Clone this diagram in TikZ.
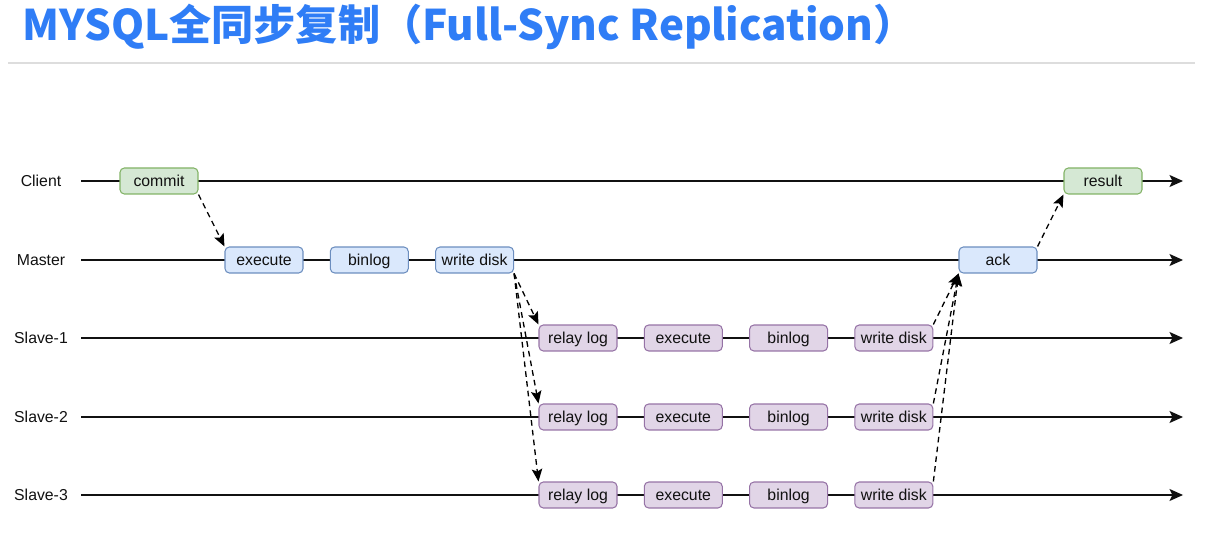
\documentclass[tikz,border=0pt]{standalone}
\usepackage{fontspec}
\setmainfont{Liberation Sans}
\newfontfamily\cjk{Noto Sans CJK SC}
\usetikzlibrary{arrows.meta,positioning}
\definecolor{Ink}{HTML}{111111}
\definecolor{TitleBlue}{HTML}{2F7DF6}
\definecolor{RuleGray}{HTML}{DDDDDD}
\definecolor{GreenFill}{HTML}{D5E8D4}
\definecolor{GreenLine}{HTML}{82B366}
\definecolor{BlueFill}{HTML}{DAE8FC}
\definecolor{BlueLine}{HTML}{6C8EBF}
\definecolor{PurpleFill}{HTML}{E1D5E7}
\definecolor{PurpleLine}{HTML}{9673A6}
\tikzset{
  stage/.style={
    rounded corners=2.5pt, line width=0.6pt, text=Ink,
    minimum width=1.56cm, minimum height=0.52cm, inner sep=2pt,
    text height=0.75em, text depth=0.15em,
    font=\fontsize{9}{11}\selectfont
  },
  clientbox/.style={stage, draw=GreenLine, fill=GreenFill},
  masterbox/.style={stage, draw=BlueLine, fill=BlueFill},
  slavebox/.style={stage, draw=PurpleLine, fill=PurpleFill},
  lanelabel/.style={text=Ink, font=\fontsize{9}{11}\selectfont},
  lane/.style={-{Stealth[length=2.7mm,width=2.4mm,inset=0.6mm]}, line width=0.75pt, draw=Ink},
  msg/.style={-{Stealth[length=2.5mm,width=2.1mm,inset=0.5mm]}, line width=0.75pt,
    dash pattern=on 3.2pt off 2.4pt, draw=black}
}

\begin{document}
\begin{tikzpicture}[x=0.02cm,y=-0.02cm,node distance=0.525cm]
    \useasboundingbox (0,0) rectangle (1207,540);
    \node[anchor=base west,inner sep=0pt,text=TitleBlue,
      font=\cjk\bfseries\fontsize{24}{29}\selectfont] (title) at (22,41)
      {MYSQL全同步复制（Full-Sync Replication）};
    \coordinate (ruleA) at (8,63);
    \coordinate (ruleB) at (1195,63);
    \draw[RuleGray,line width=0.6pt] (ruleA) -- (ruleB);
    % time lines
    \foreach \n/\y/\t in {client/181/Client,master/260/Master,s1/338/Slave-1,
                         s2/417/Slave-2,s3/495/Slave-3}{
      \node[lanelabel] (\n) at (41,\y) {\t};
      \coordinate (\n-a) at (81,\y);
      \coordinate (\n-b) at (1183,\y);
      \draw[lane] (\n-a) -- (\n-b);
    }
    % client
    \node[clientbox] (commit) at (159,181) {commit};
    \node[clientbox] (result) at (1103,181) {result};
    % master
    \node[masterbox] (mexec) at (264,260) {execute};
    \node[masterbox,right=of mexec] (mbinlog) {binlog};
    \node[masterbox,right=of mbinlog] (mwrite) {write disk};
    \node[masterbox] (ack) at (998,260) {ack};
    % slaves
    \foreach \n/\y in {s1/338,s2/417,s3/495}{
      \node[slavebox] (\n-relay) at (578,\y) {relay log};
      \node[slavebox,right=of \n-relay] (\n-exec) {execute};
      \node[slavebox,right=of \n-exec] (\n-binlog) {binlog};
      \node[slavebox,right=of \n-binlog] (\n-write) {write disk};
    }
    \draw[msg] (commit.south east) -- (mexec.north west);
    \foreach \n in {s1,s2,s3}{
      \draw[msg] (mwrite.south east) -- (\n-relay.north west);
      \draw[msg] (\n-write.north east) -- (ack.south west);
    }
    \draw[msg] (ack.north east) -- (result.south west);
  \end{tikzpicture}
\end{document}
